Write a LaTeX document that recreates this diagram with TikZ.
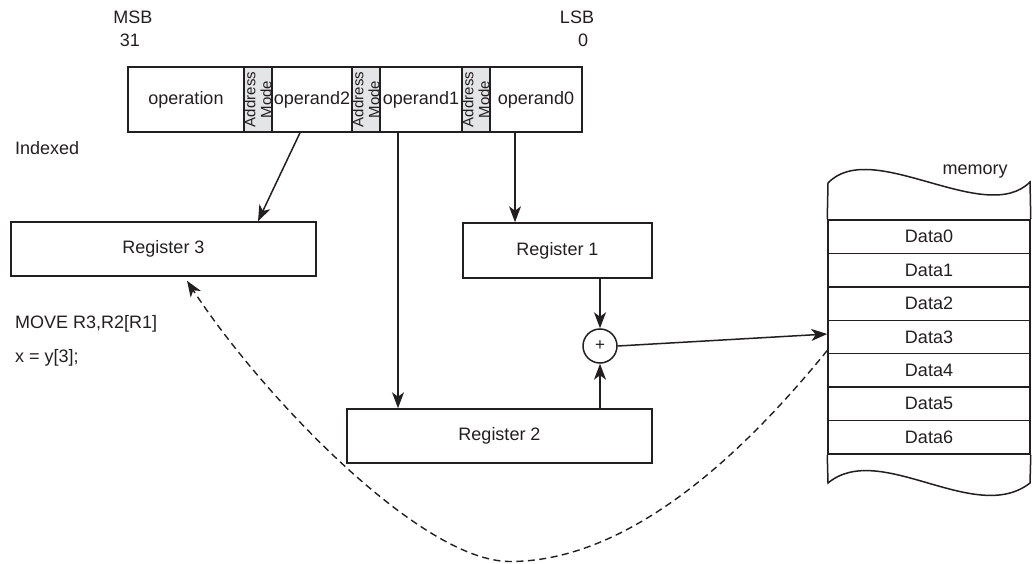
\documentclass[tikz,border=0pt]{standalone}
\usepackage{fontspec}
\setmainfont{Liberation Sans}
\usetikzlibrary{arrows.meta}
\definecolor{ink}{HTML}{231F20}
\definecolor{modefill}{HTML}{E4E5E6}

\begin{document}
\begin{tikzpicture}[x=1pt,y=1pt,
  every node/.style={text=ink, font=\fontsize{18}{21}\selectfont},
  field/.style={draw=ink, line width=1.5pt, minimum height=65pt, inner sep=0pt},
  modecell/.style={draw=ink, line width=1.5pt, fill=modefill, rotate=90,
    minimum width=65pt, minimum height=28pt, inner sep=0pt, align=center,
    font=\fontsize{15}{16}\selectfont},
  reg/.style={draw=ink, line width=1.5pt, minimum height=54pt, inner sep=0pt},
  cell/.style={draw=ink, line width=1.5pt, minimum width=202pt,
    minimum height=33.43pt, inner sep=0pt},
  lbl/.style={inner sep=0pt},
  tip/.style={-{Stealth[length=16pt,width=12pt,inset=4.5pt]}},
  conn/.style={draw=ink, line width=1.5pt, tip},
  back/.style={draw=ink, line width=1.4pt, dash pattern=on 7pt off 4.5pt}
]
\useasboundingbox (0,0) rectangle (1032,563);

% bit numbering
\node[lbl, anchor=base] at (133,539) {MSB};
\node[lbl, anchor=base] at (130,516) {31};
\node[lbl, anchor=base] at (577,539) {LSB};
\node[lbl, anchor=base] at (583,516) {0};

% instruction word
\node[field, minimum width=116pt] (opn)  at (186,463.5) {operation};
\node[modecell] (am2) at (258,463.5) {Address\\Mode};
\node[field, minimum width=80pt]  (opd2) at (312,463.5) {operand2};
\node[modecell] (am1) at (366,463.5) {Address\\Mode};
\node[field, minimum width=82pt]  (opd1) at (421,463.5) {operand1};
\node[modecell] (am0) at (476,463.5) {Address\\Mode};
\node[field, minimum width=92pt]  (opd0) at (536,463.5) {operand0};

\node[lbl, anchor=base west] at (15,408) {Indexed};

% registers and adder
\node[reg, minimum width=305pt] (r3) at (163.5,314) {Register 3};
\node[reg, minimum width=189pt, minimum height=55pt] (r1) at (557.5,312.5) {Register 1};
\node[reg, minimum width=305pt] (r2) at (499.5,127) {Register 2};
\node[circle, draw=ink, line width=1.5pt, minimum size=34pt, inner sep=0pt,
  font=\fontsize{17}{17}\selectfont] (plus) at (600,217) {+};

\node[lbl, anchor=base west] at (15,235) {MOVE R3,R2[R1]};
\node[lbl, anchor=base west] at (15,201) {x = y[3];};

% memory
\node[lbl, anchor=base] at (975,388) {memory};
\foreach \i in {0,...,6}
  \node[cell] (d\i) at (929,{326.285-33.43*\i}) {Data\i};
\draw[draw=ink, line width=1.5pt] (d0.north west) -- (828,380)
  .. controls (872,426) and (985,336) .. (1030,381) -- (d0.north east);
\draw[draw=ink, line width=1.5pt] (d6.south west) -- (828,80)
  .. controls (880,123) and (975,37) .. (1030,80) -- (d6.south east);

% connectors
\draw[conn] ([xshift=-12pt]opd2.south) -- ([xshift=94.5pt]r3.north);
\draw[conn] ([xshift=-23pt]opd1.south) -- ([xshift=-23pt]opd1.south |- r2.north);
\draw[conn] ([xshift=-21pt]opd0.south) -- ([xshift=-21pt]opd0.south |- r1.north);
\draw[conn] (r1.south -| plus) -- (plus.north);
\draw[conn] (r2.north -| plus) -- (plus.south);
\draw[conn] (plus.east) -- ([yshift=3pt]d3.west);

\coordinate (dip) at (510,1.5);
\coordinate (r3tip) at ([xshift=23.5pt,yshift=-4pt]r3.south);
\draw[back, tip]
  ([yshift=4pt]d3.south west) .. controls (760,130) and (640,1.5) .. (dip)
  .. controls (420,1.5) and (260,170) .. (r3tip);
\end{tikzpicture}
\end{document}
